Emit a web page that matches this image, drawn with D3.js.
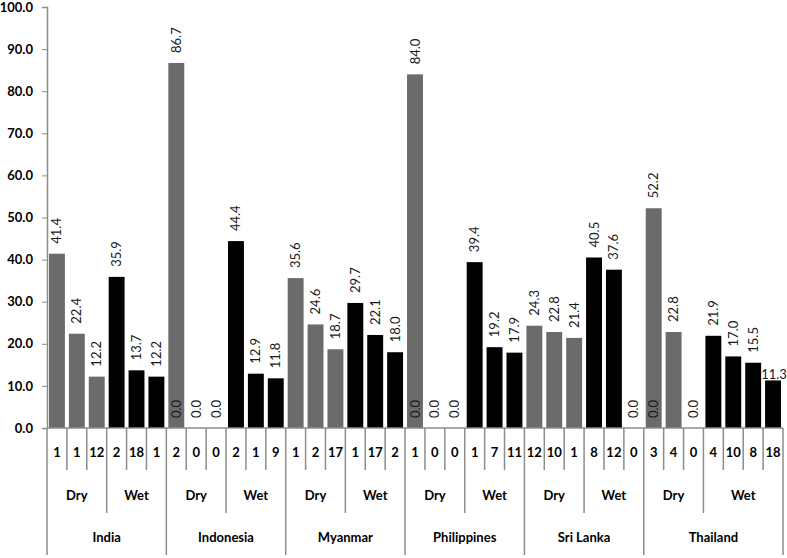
<!DOCTYPE html>
<html>
<head>
<meta charset="utf-8">
<script src="https://cdn.jsdelivr.net/npm/d3@7"></script>
<style>
  body { margin: 0; background: #fff; }
  svg text { font-family: Lato, "Liberation Sans", sans-serif; }
</style>
</head>
<body>
<div id="chart"></div>
<script>
// data
const countries = ['India', 'Indonesia', 'Myanmar', 'Philippines', 'Sri Lanka', 'Thailand'];
const seasons = ['Dry', 'Wet'];
const dryValues = [
  [41.4, 22.4, 12.2],
  [86.7, 0.0, 0.0],
  [35.6, 24.6, 18.7],
  [84.0, 0.0, 0.0],
  [24.3, 22.8, 21.4],
  [52.2, 22.8, 0.0]
];
const wetValues = [
  [35.9, 13.7, 12.2],
  [44.4, 12.9, 11.8],
  [29.7, 22.1, 18.0],
  [39.4, 19.2, 17.9],
  [40.5, 37.6, 0.0],
  [21.9, 17.0, 15.5, 11.3]
];
const dryCounts = [
  [1, 1, 12], [2, 0, 0], [1, 2, 17], [1, 0, 0], [12, 10, 1], [3, 4, 0]
];
const wetCounts = [
  [2, 18, 1], [2, 1, 9], [1, 17, 2], [1, 7, 11], [8, 12, 0], [4, 10, 8, 18]
];
// a second, empty (0.0) series shows its label on the first dry bar of these countries
const zeroOverlay = ['Indonesia', 'Philippines', 'Thailand'];
const yTicks = [0, 10, 20, 30, 40, 50, 60, 70, 80, 90, 100];

const width = 787, height = 558;
const margin = { top: 7, right: 4, bottom: 130, left: 47 };
const colors = { Dry: '#6b6b6b', Wet: '#000000' };
const lineColor = '#8c8c8c';

// flatten into one row per bar
const rows = [];
countries.forEach((c, ci) => {
  seasons.forEach(s => {
    const vals = s === 'Dry' ? dryValues[ci] : wetValues[ci];
    const cnts = s === 'Dry' ? dryCounts[ci] : wetCounts[ci];
    vals.forEach((v, i) => rows.push({ id: rows.length, country: c, season: s, idx: i, value: v, count: cnts[i] }));
  });
});

const svg = d3.select('#chart').append('svg')
  .attr('width', width)
  .attr('height', height);

const x = d3.scaleBand()
  .domain(rows.map(d => d.id))
  .range([margin.left, width - margin.right])
  .paddingInner(0.2)
  .paddingOuter(0.1);

const y = d3.scaleLinear()
  .domain([0, 100])
  .range([height - margin.bottom, margin.top]);

const base = y(0);

// y axis
const yAxis = svg.append('g')
  .attr('transform', `translate(${margin.left},0)`)
  .call(d3.axisLeft(y).tickValues(yTicks).tickFormat(d3.format('.1f')).tickSize(5).tickPadding(9));
yAxis.select('.domain').attr('stroke', lineColor).attr('stroke-width', 1.5);
yAxis.selectAll('.tick line').attr('stroke', lineColor);
yAxis.selectAll('.tick text')
  .attr('fill', '#000')
  .style('font-size', '13px')
  .style('font-weight', 'bold');

// bars
svg.append('g').selectAll('rect')
  .data(rows)
  .enter()
  .append('rect')
  .attr('x', d => x(d.id))
  .attr('width', x.bandwidth())
  .attr('y', d => y(d.value))
  .attr('height', d => base - y(d.value))
  .attr('fill', d => colors[d.season]);

// value labels (plus the 0.0 labels of the empty overlay series)
const last = rows[rows.length - 1];
const labels = rows.map(d => ({ id: d.id, value: d.value, horiz: d === last }));
rows.filter(d => d.season === 'Dry' && d.idx === 0 && zeroOverlay.includes(d.country))
  .forEach(d => labels.push({ id: d.id, value: 0, horiz: false }));

svg.append('g').selectAll('text')
  .data(labels)
  .enter()
  .append('text')
  .attr('transform', d => {
    const cx = x(d.id) + x.bandwidth() / 2;
    if (d.horiz) return `translate(${cx + 1},${y(d.value) - 1})`;
    return `translate(${cx + 4.5},${y(d.value) - 10}) rotate(-90)`;
  })
  .attr('text-anchor', d => d.horiz ? 'middle' : 'start')
  .attr('fill', '#1a1a1a')
  .style('font-size', '13px')
  .text(d => d3.format('.1f')(d.value));

// baseline
svg.append('line')
  .attr('x1', margin.left).attr('x2', width - margin.right)
  .attr('y1', base).attr('y2', base)
  .attr('stroke', lineColor).attr('stroke-width', 1.5);

// category axis: counts, seasons, countries
const catG = svg.append('g');
const step = x.step();
const left = id => margin.left + step * id;

rows.forEach(d => {
  catG.append('text')
    .attr('x', left(d.id) + step / 2)
    .attr('y', base + 29)
    .attr('text-anchor', 'middle')
    .style('font-size', '13px')
    .style('font-weight', 'bold')
    .text(d.count);
});

// separators between bars
rows.forEach(d => {
  if (d.id === 0) return;
  const prev = rows[d.id - 1];
  let len = 42;
  if (prev.country !== d.country) len = 127;
  else if (prev.season !== d.season) len = 85;
  catG.append('line')
    .attr('x1', left(d.id)).attr('x2', left(d.id))
    .attr('y1', base).attr('y2', base + len)
    .attr('stroke', lineColor).attr('stroke-width', 1.5);
});
[margin.left, width - margin.right].forEach(px => {
  catG.append('line')
    .attr('x1', px).attr('x2', px)
    .attr('y1', base).attr('y2', base + 127)
    .attr('stroke', lineColor).attr('stroke-width', 1.5);
});

// season and country labels
const seasonGroups = d3.groups(rows, d => d.country + '|' + d.season);
seasonGroups.forEach(([, g]) => {
  const x0 = left(g[0].id), x1 = left(g[g.length - 1].id) + step;
  catG.append('text')
    .attr('x', (x0 + x1) / 2)
    .attr('y', base + 72)
    .attr('text-anchor', 'middle')
    .style('font-size', '13px')
    .style('font-weight', 'bold')
    .text(g[0].season);
});
const countryGroups = d3.groups(rows, d => d.country);
countryGroups.forEach(([c, g]) => {
  const x0 = left(g[0].id), x1 = left(g[g.length - 1].id) + step;
  catG.append('text')
    .attr('x', (x0 + x1) / 2)
    .attr('y', base + 114)
    .attr('text-anchor', 'middle')
    .style('font-size', '13px')
    .style('font-weight', 'bold')
    .text(c);
});
</script>
</body>
</html>
